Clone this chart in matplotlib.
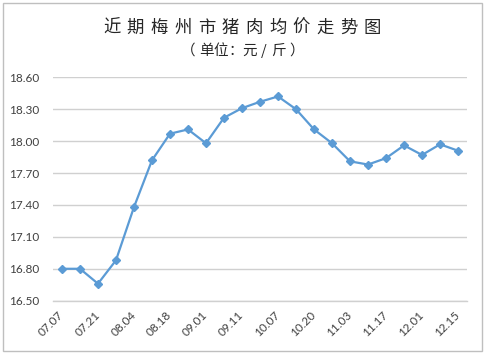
import matplotlib
matplotlib.use("Agg")
import matplotlib.pyplot as plt
from matplotlib.patches import Rectangle

plt.rcParams['font.family'] = ['Noto Sans CJK SC', 'DejaVu Sans']

dates = ["07.07", "", "07.21", "", "08.04", "", "08.18", "", "09.01", "", "09.11", "",
         "10.07", "", "10.20", "", "11.03", "", "11.17", "", "12.01", "", "12.15"]
prices = [16.80, 16.80, 16.66, 16.88, 17.38, 17.82, 18.07, 18.11, 17.98, 18.22, 18.31, 18.37,
          18.42, 18.30, 18.11, 17.98, 17.81, 17.78, 17.84, 17.96, 17.87, 17.97, 17.91]
yticks = [16.50, 16.80, 17.10, 17.40, 17.70, 18.00, 18.30, 18.60]
title = "近期梅州市猪肉均价走势图"
subtitle = "（单位：元/斤）"

fig = plt.figure(figsize=(4.86, 3.54), dpi=100)
ax = fig.add_axes([0.109, 0.1506, 0.852, 0.631])

x = list(range(len(prices)))
ax.plot(x, prices, color="#5B9BD5", lw=1.6, marker="D", ms=3.8, mec="#5B9BD5", mfc="#5B9BD5", zorder=3)

ax.set_xlim(-0.5, len(prices) - 0.5)
ax.set_ylim(yticks[0], yticks[-1])
ax.set_yticks(yticks)
ax.set_yticklabels([f"{v:.2f}" for v in yticks], fontfamily="Lato", fontsize=8.5, color="#404040")
ticks_idx = [i for i, d in enumerate(dates) if d]
ax.set_xticks(ticks_idx)
ax.set_xticklabels([dates[i] for i in ticks_idx], fontfamily="Lato", fontsize=8.5, color="#404040",
                   rotation=45, ha="right", va="center", rotation_mode="anchor")
ax.tick_params(axis="both", length=0)
ax.tick_params(axis="y", pad=10)
ax.tick_params(axis="x", pad=9)
ax.grid(axis="y", color="#D0D0D0", lw=1.0)
ax.set_axisbelow(True)
for s in ["top", "right", "left"]:
    ax.spines[s].set_visible(False)
ax.spines["bottom"].set_color("#D0D0D0")
ax.spines["bottom"].set_linewidth(1.0)

# title with letter spacing
n = len(title)
cx, step = 0.498, 0.0488
for i, ch in enumerate(title):
    fig.text(cx + (i - (n - 1) / 2) * step, 1 - 28 / 354, ch, fontsize=12.5, ha="center", va="center", color="#262626")
# subtitle, full-width character cells (brackets drawn centred in their cells)
m = len(subtitle)
scx, sstep = 242.5 / 486, 14.4 / 486
nudge = {"（": -4 / 486, "）": 4 / 486}
for i, ch in enumerate(subtitle):
    fig.text(scx + (i - (m - 1) / 2) * sstep + nudge.get(ch, 0), 1 - 51 / 354, ch, fontsize=10.5,
             ha="center", va="center", color="#262626")

fig.patches.append(Rectangle((3 / 486, 3 / 354), 479 / 486, 348 / 354, transform=fig.transFigure,
                             fill=False, edgecolor="#BFBFBF", lw=1.0))

fig.savefig("out.png", dpi=100, facecolor="white")
